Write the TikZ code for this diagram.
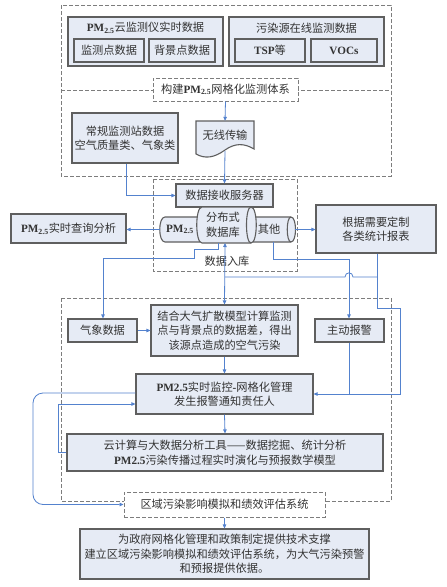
\documentclass[tikz,border=0pt]{standalone}
\usepackage{fontspec}
\setmainfont{Liberation Serif}
\newfontfamily\cjk{Noto Sans CJK SC}
\usetikzlibrary{arrows.meta}
\definecolor{boxfill}{RGB}{230,235,245}
\definecolor{boxline}{RGB}{95,95,95}
\definecolor{conn}{RGB}{84,130,206}
\definecolor{dashc}{RGB}{125,125,125}
\newcommand\lat[1]{{\rmfamily\bfseries #1}}
\begin{document}
\begin{tikzpicture}[x=1pt,y=-1pt,
  font=\cjk\fontsize{11.2}{14.5}\selectfont, text=black!80,
  bx/.style={draw=boxline,line width=1.1pt,fill=boxfill,align=center,inner sep=0pt},
  dbox/.style={draw=dashc,dash pattern=on 4pt off 2pt,line width=1pt},
  cn/.style={draw=conn,line width=0.8pt},
  arr/.style={cn,-{Triangle[length=4pt,width=3.5pt]}},
  dblarr/.style={cn,{Triangle[length=4pt,width=3.5pt]}-{Triangle[length=4pt,width=3.5pt]}},
  lbl/.style={inner sep=0pt,align=center}]
\useasboundingbox[fill=white] (0,0) rectangle (447,587);

% dashed regions
\draw[dbox] (61,5) rectangle (391,176);
\draw[dbox] (61,90) -- (391,90);
\draw[dbox] (153,179) rectangle (297,271);
\draw[dbox] (61,298) rectangle (391,501);

% top groups
\node[bx,minimum width=155pt,minimum height=49pt] (g1) at (145.5,41.5) {};
\node[lbl] (g1t) at (145.5,28) {\lat{PM\textsubscript{2.5}}云监测仪实时数据};
\node[bx,minimum width=70pt,minimum height=23pt] (g1a) at (109,50.5) {监测点数据};
\node[bx,minimum width=66pt,minimum height=23pt] (g1b) at (182,50.5) {背景点数据};
\node[bx,minimum width=155pt,minimum height=49pt] (g2) at (306.5,41.5) {};
\node[lbl] (g2t) at (306.5,28) {污染源在线监测数据};
\node[bx,minimum width=70pt,minimum height=23pt] (g2a) at (270,50.5) {\lat{TSP}等};
\node[bx,minimum width=66pt,minimum height=23pt] (g2b) at (344,50.5) {\lat{VOCs}};

\node[dbox,fill=white,minimum width=145pt,minimum height=23pt,inner sep=0pt] (ttl) at (225.5,89.5) {构建\lat{PM\textsubscript{2.5}}网格化监测体系};

\node[bx,minimum width=106pt,minimum height=50pt] (cg) at (125,138) {常规监测站数据\\空气质量类、气象类};

% document shape
\draw[draw=boxline,line width=1.1pt,fill=boxfill] (196,121) -- (254,121) -- (254,149)
  .. controls (244,143) and (235,143) .. (225,150)
  .. controls (214,158) and (205,159) .. (196,154) -- cycle;
\node[lbl,minimum width=58pt,minimum height=28pt] (wx) at (225,135) {无线传输};
\coordinate (wxb) at (225,151);

\node[bx,minimum width=97pt,minimum height=23pt] (srv) at (224.5,195.5) {数据接收服务器};

% database cylinder
\draw[draw=boxline,line width=1.1pt,fill=boxfill] (200,217) -- (165,217)
  .. controls (158,217) and (158,242) .. (165,242) -- (200,242) -- cycle;
\draw[draw=boxline,line width=1.1pt,fill=boxfill] (252,217) -- (291,217)
  .. controls (297,217) and (297,242) .. (291,242) -- (252,242) -- cycle;
\draw[draw=boxline,line width=1.1pt] (291,217) .. controls (286,217) and (286,242) .. (291,242);
\draw[draw=boxline,line width=1.1pt,fill=boxfill] (202,207) -- (251,207)
  .. controls (258,207) and (258,243) .. (251,243) -- (202,243)
  .. controls (195,243) and (195,207) .. (202,207) -- cycle;
\draw[draw=boxline,line width=1.1pt] (251,207) .. controls (245,207) and (245,243) .. (251,243);
\node[lbl] (pmc) at (180,229.5) {\lat{PM\textsubscript{2.5}}};
\node[lbl] (db) at (223,225) {分布式\\数据库};
\node[lbl] (oth) at (269,229.5) {其他};
\coordinate (pmW) at (160,229.5);
\coordinate (othE) at (295,229.5);
\node[lbl] (rk) at (227,261) {数据入库};

\node[bx,minimum width=115pt,minimum height=29pt] (pmq) at (68.5,228.5) {\lat{PM\textsubscript{2.5}}实时查询分析};
\node[bx,minimum width=120pt,minimum height=48pt] (rpt) at (376,229) {根据需要定制\\各类统计报表};

\node[bx,minimum width=69pt,minimum height=23pt] (qx) at (102.5,330.5) {气象数据};
\node[bx,minimum width=147pt,minimum height=51pt] (jh) at (224.5,330.5) {结合大气扩散模型计算监测\\点与背景点的数据差，得出\\该源点造成的空气污染};
\node[bx,minimum width=69pt,minimum height=23pt] (zd) at (349.5,330.5) {主动报警};
\node[bx,minimum width=177pt,minimum height=40pt] (jk) at (224.5,394) {\lat{PM2.5}实时监控\lat{-}网格化管理\\发生报警通知责任人};
\node[bx,minimum width=316pt,minimum height=37pt] (yj) at (225,452.5) {云计算与大数据分析工具——数据挖掘、统计分析\\\lat{PM2.5}污染传播过程实时演化与预报数学模型};
\node[dbox,fill=white,minimum width=201pt,minimum height=25pt,inner sep=0pt] (qy) at (224.5,504.5) {区域污染影响模拟和绩效评估系统};
\node[bx,minimum width=289pt,minimum height=50pt] (fin) at (224.5,554) {为政府网格化管理和政策制定提供技术支撑\\建立区域污染影响模拟和绩效评估系统，为大气污染预警\\和预报提供依据。};

% connectors
\draw[arr] (ttl.south) -- (wx.north);
\draw[arr] (wxb) -- (srv.north);
\draw[arr] (cg.south -| 126,0) |- (srv.west);
\draw[arr] (pmW) -- (pmq.east |- pmW);
\draw[arr] (othE) -- (rpt.west |- othE);
\draw[arr] (218,243) -- (218,249) -- (194,249) -- (194,258) -- (103,258) -- (qx.north -| 103,0);
\draw[dblarr] (225,243) -- (jh.north);
\draw[cn] (225,277) -- (345,277) .. controls (345,271.5) and (353,271.5) .. (353,277) -- (377,277);
\draw[arr] (rpt.south -| 377,0) -- (377,308) -- (400,308) -- (400,394) -- (jk.east);
\draw[arr] (273,242) -- (273,259) -- (349,259) -- (zd.north -| 349,0);
\draw[cn] (zd.south -| 349,0) -- (349,394);
\draw[arr] (qx.east) -- (jh.west);
\draw[arr] (jh.south) -- (jk.north);
\draw[arr] (jk.south) -- (yj.north);
\draw[arr] (yj.west) -- (58,452.5) -- (58,404) -- (jk.west |- {(0,404)});
\draw[arr,rounded corners=10pt] (jk.west |- {(0,393)}) -- (33,393) -- (33,504.5) -- (qy.west);
\draw[arr] (qy.south) -- (fin.north);
\end{tikzpicture}
\end{document}
